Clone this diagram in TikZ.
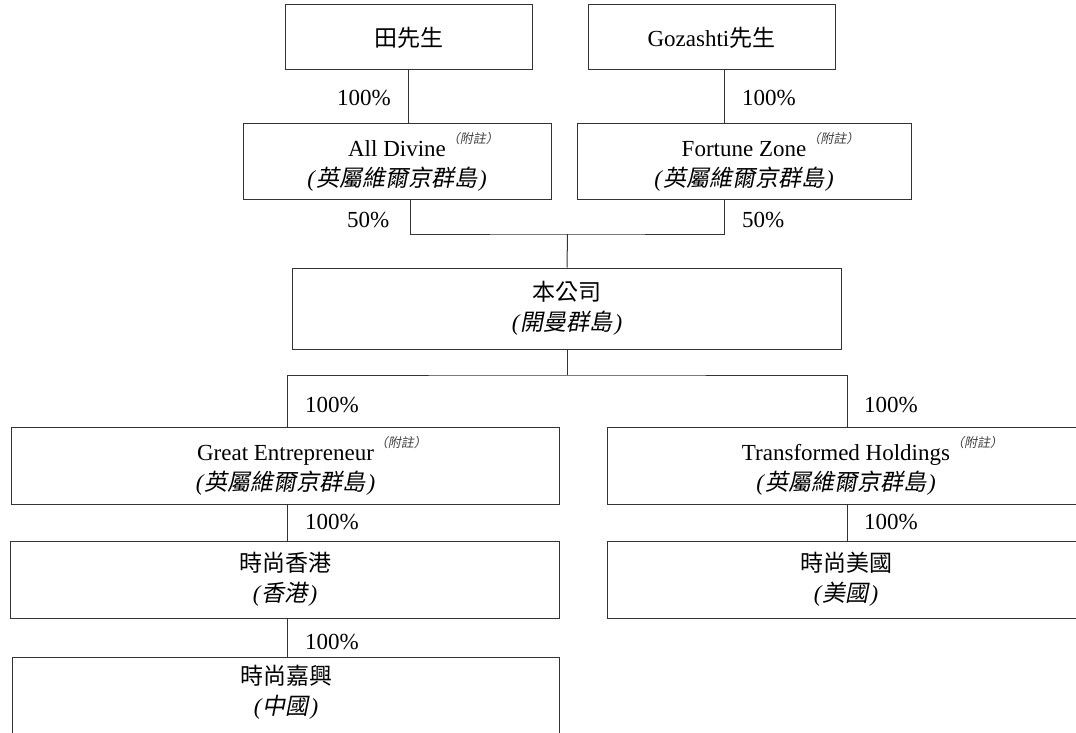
\documentclass[tikz,border=0pt]{standalone}
\usepackage{fontspec}
\setmainfont{Liberation Serif}
\newfontfamily\cjk{Noto Sans CJK TC}
\newfontfamily\cjkit[FakeSlant=0.2]{Noto Sans CJK TC}
\newcommand\myit[1]{{\itshape(\kern1bp}{\cjkit #1}{\itshape\kern2bp)}}
\newcommand\mynote{\rlap{\kern1bp\raisebox{13bp}{\fontsize{13bp}{13bp}\selectfont\color{black!75}\cjkit （附註）}}}
\begin{document}
\begin{tikzpicture}[x=1bp,y=-1bp,
  box/.style={draw=black!80, line width=1bp, rectangle, inner sep=0pt, align=center,
    font=\fontsize{23bp}{30bp}\selectfont},
  txt/.style={inner sep=0pt, align=center, font=\fontsize{23bp}{30bp}\selectfont},
  pct/.style={inner sep=0pt, anchor=west, font=\fontsize{23bp}{23bp}\selectfont},
  conn/.style={draw=black!80, line width=1bp}]
\useasboundingbox (0,0) rectangle (1076,733);
\clip (0,0) rectangle (1076,733);

% top row
\node[box, minimum width=247bp, minimum height=65bp] (tian) at (408.5,37.5) {\cjk 田先生};
\node[box, minimum width=247bp, minimum height=65bp] (goz) at (711.5,37.5) {Gozashti{\cjk 先生}};

% second row
\node[box, minimum width=308bp, minimum height=75bp] (ad) at (397,161.5)
  {All Divine\mynote\\\myit{英屬維爾京群島}};
\node[box, minimum width=334bp, minimum height=75bp] (fz) at (744,161.5)
  {Fortune Zone\mynote\\\myit{英屬維爾京群島}};

% company
\node[box, minimum width=548bp, minimum height=81bp] (co) at (567,308.5)
  {{\cjk 本公司}\\\myit{開曼群島}};

% subsidiaries
\node[box, minimum width=547bp, minimum height=77bp] (ge) at (285.5,465.5)
  {Great Entrepreneur\mynote\\\myit{英屬維爾京群島}};
\node[box, minimum width=478bp, minimum height=77bp] (th) at (846,465.5)
  {Transformed Holdings\mynote\\\myit{英屬維爾京群島}};

\node[box, minimum width=548bp, minimum height=77bp] (hk) at (285,579.5)
  {{\cjk 時尚香港}\\\myit{香港}};
\node[box, minimum width=478bp, minimum height=77bp] (us) at (846,579.5)
  {{\cjk 時尚美國}\\\myit{美國}};

\node[box, minimum width=546bp, minimum height=110bp] (jx) at (286,712) {};
\node[txt] (jxt) at (286,692) {{\cjk 時尚嘉興}\\\myit{中國}};

% junction coordinates
\coordinate (b1) at (567.5,234);
\coordinate (b2) at (567,375);

% connectors
\draw[conn] (tian.south) -- (tian.south |- ad.north);
\draw[conn] ([xshift=12.5bp]goz.south) -- ([xshift=12.5bp]goz.south |- fz.north);
\draw[conn] ([xshift=13bp]ad.south) |- (b1) -| ([xshift=-20bp]fz.south);
\draw[conn] (b1) -- (co.north);
\draw[conn] (co.south) -- (b2);
\draw[conn] ([xshift=2bp]ge.north) |- (b2) -| ([xshift=1bp]th.north);
\draw[conn] ([xshift=1.5bp]ge.south) -- ([xshift=1.5bp]ge.south |- hk.north);
\draw[conn] ([xshift=1bp]th.south) -- ([xshift=1bp]th.south |- us.north);
\draw[conn] ([xshift=2bp]hk.south) -- ([xshift=2bp]hk.south |- jx.north);

% percentages
\node[pct] (p1) at (337,98) {100\%};
\node[pct] (p2) at (742,98) {100\%};
\node[pct] (p3) at (347,220) {50\%};
\node[pct] (p4) at (742,220) {50\%};
\node[pct] (p5) at (305,405) {100\%};
\node[pct] (p6) at (864,405) {100\%};
\node[pct] (p7) at (305,522) {100\%};
\node[pct] (p8) at (864,522) {100\%};
\node[pct] (p9) at (305,642) {100\%};
\end{tikzpicture}
\end{document}
